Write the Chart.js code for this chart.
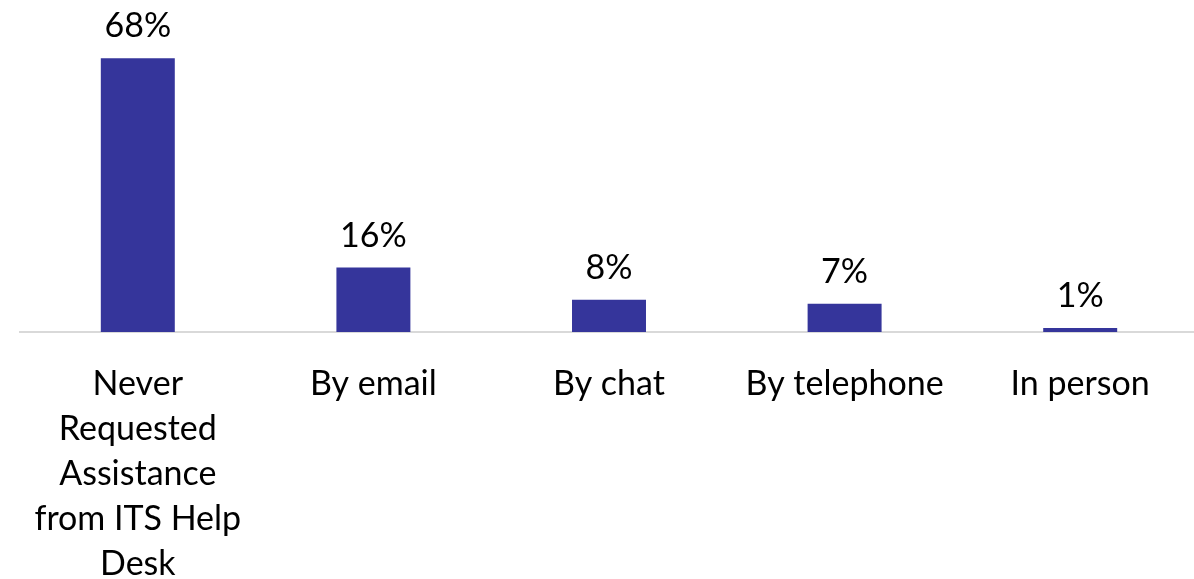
<!DOCTYPE html>
<html>
<head>
<meta charset="utf-8">
<script src="https://cdn.jsdelivr.net/npm/chart.js@4"></script>
<style>
  html,body{margin:0;padding:0;background:#fff;overflow:hidden;}
  #wrap{width:1198px;height:579px;position:relative;}
</style>
</head>
<body>
<div id="wrap"><canvas id="helpChart"></canvas></div>
<script>
const categories = [
  ["Never","Requested","Assistance","from ITS Help","Desk"],
  "By email",
  "By chat",
  "By telephone",
  "In person"
];
const shares = [68, 16, 8, 7, 1];

const FONT = "Lato";
const BAR = "#35359b";

// percentage labels drawn above each bar
const valueLabels = {
  id: "valueLabels",
  afterDatasetsDraw(chart){
    const ctx = chart.ctx;
    const meta = chart.getDatasetMeta(0);
    ctx.save();
    ctx.font = "34px " + FONT;
    ctx.fillStyle = "#000";
    ctx.textAlign = "center";
    ctx.textBaseline = "alphabetic";
    meta.data.forEach((bar, i)=>{
      ctx.fillText(shares[i] + "%", bar.x, bar.y - 21);
    });
    ctx.restore();
  }
};

new Chart(document.getElementById("helpChart"), {
  type: "bar",
  data: {
    labels: categories,
    datasets: [{ data: shares, backgroundColor: BAR, barPercentage: 0.314, categoryPercentage: 1 }]
  },
  options: {
    responsive: true,
    maintainAspectRatio: false,
    animation: false,
    layout: { padding: { left: 20, right: 0, top: 10, bottom: 0 } },
    plugins: { legend: { display: false }, tooltip: { enabled: false } },
    scales: {
      x: {
        grid: { display: false },
        border: { display: true, color: "#d9d9d9", width: 2 },
        ticks: { color: "#000", font: { family: FONT, size: 34, lineHeight: 1.32 }, padding: 22, maxRotation: 0, autoSkip: false },
        afterFit(scale){ scale.height = 247; }
      },
      y: { display: false, min: 0, max: 80 }
    }
  },
  plugins: [valueLabels]
});
</script>
</body>
</html>
